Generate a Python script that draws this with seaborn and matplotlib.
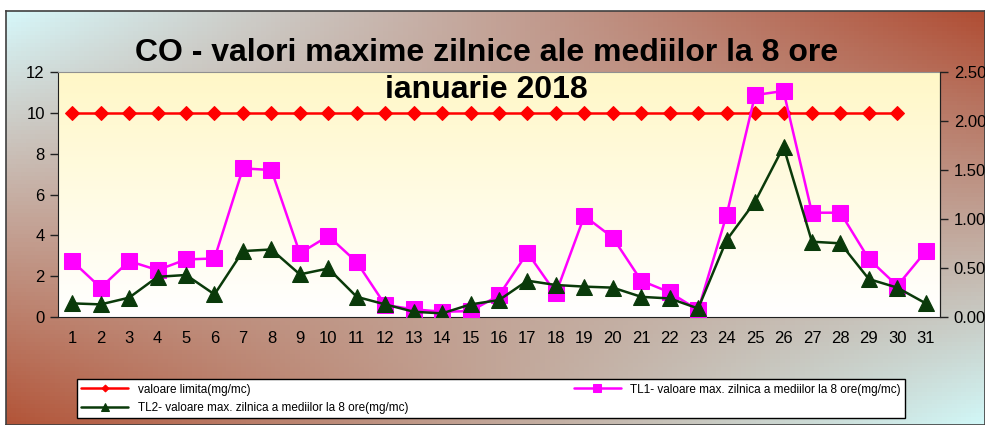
import numpy as np
import pandas as pd
import matplotlib
matplotlib.use("Agg")
from matplotlib import pyplot as plt
import seaborn as sns

days = list(range(1, 32))
limita = [10] * 30 + [np.nan]
tl1 = [2.74, 1.44, 2.74, 2.30, 2.82, 2.87, 7.28, 7.20, 3.12, 3.97,
       2.69, 0.59, 0.38, 0.26, 0.29, 1.06, 3.15, 1.16, 4.95, 3.89,
       1.78, 1.21, 0.34, 5.00, 10.87, 11.07, 5.11, 5.11, 2.84, 1.53, 3.22]
tl2 = [0.67, 0.62, 0.95, 1.97, 2.06, 1.11, 3.23, 3.31, 2.09, 2.38,
       0.99, 0.62, 0.26, 0.18, 0.62, 0.83, 1.78, 1.57, 1.49, 1.44,
       0.99, 0.91, 0.42, 3.77, 5.65, 8.34, 3.69, 3.61, 1.86, 1.44, 0.67]
left_ticks = [0, 2, 4, 6, 8, 10, 12]
right_ticks = [0, 0.5, 1.0, 1.5, 2.0, 2.5]

df = pd.DataFrame({"zi": days, "limita": limita, "tl1": tl1, "tl2": tl2})

sns.set_style("white")
plt.rcParams['font.family'] = ['Liberation Sans', 'DejaVu Sans']
plt.rcParams['text.color'] = 'black'
plt.rcParams['xtick.color'] = 'black'
plt.rcParams['ytick.color'] = 'black'

fig = plt.figure(figsize=(9.85, 4.25), dpi=100)
fig.patch.set_facecolor("white")

# frame background gradient
bg = fig.add_axes([0.006, 0.0, 0.994, 0.975], zorder=-10)
tl = np.array([0.84, 0.97, 0.98])
tr = np.array([0.69, 0.30, 0.20])
bl = np.array([0.70, 0.33, 0.22])
br = np.array([0.82, 0.97, 0.97])
u = np.linspace(0, 1, 200)[None, :, None]
v = np.linspace(0, 1, 100)[:, None, None]
img = (1 - v) * ((1 - u) * tl + u * tr) + v * ((1 - u) * bl + u * br)
bg.imshow(img, aspect="auto", extent=[0, 1, 0, 1], origin="upper")
bg.set_xticks([])
bg.set_yticks([])
for s in bg.spines.values():
    s.set_color("#404040")
    s.set_linewidth(1.2)

ax = fig.add_axes([0.0589, 0.254, 0.8954, 0.5766])
# plot area: pale yellow to white
grad = np.linspace(0, 1, 100)[:, None, None]
area = (1 - grad) * np.array([1.0, 0.97, 0.78]) + grad * np.array([1.0, 1.0, 1.0])
ax.imshow(area, aspect="auto", extent=[0.5, 31.5, 0, 12], origin="upper", zorder=0)

sns.lineplot(data=df, x="zi", y="limita", ax=ax, color="#ff0000", marker="D",
             markersize=7, linewidth=1.8, markeredgecolor="#ff0000",
             label="valoare limita(mg/mc)", zorder=3)
sns.lineplot(data=df, x="zi", y="tl1", ax=ax, color="#ff00ff", marker="s",
             markersize=11, linewidth=1.8, markeredgecolor="#ff00ff",
             label="TL1- valoare max. zilnica a mediilor la 8 ore(mg/mc)", zorder=4)
sns.lineplot(data=df, x="zi", y="tl2", ax=ax, color="#0a3a0a", marker="^",
             markersize=11, linewidth=1.8, markeredgecolor="#0a3a0a",
             label="TL2- valoare max. zilnica a mediilor la 8 ore(mg/mc)", zorder=5)

ax.set_xlim(0.5, 31.5)
ax.set_ylim(0, 12)
ax.set_yticks(left_ticks)
ax.set_yticklabels([str(t) for t in left_ticks], fontsize=12)
ax.set_xticks(np.arange(0.5, 32, 1))
ax.set_xticklabels([])
ax.set_xticks(days, minor=True)
ax.set_xticklabels([str(d) for d in days], minor=True, fontsize=12)
ax.tick_params(axis="x", which="major", direction="out", length=6, color="#202020", width=1)
ax.tick_params(axis="x", which="minor", length=0, pad=10)
ax.tick_params(axis="y", direction="out", length=6, color="#202020", width=1)
ax.set_xlabel("")
ax.set_ylabel("")
ax.spines["top"].set_color("#909090")
ax.spines["left"].set_color("#202020")
ax.spines["bottom"].set_color("#202020")
ax.spines["right"].set_color("#202020")

ax2 = ax.twinx()
ax2.set_ylim(0, 2.5)
ax2.set_yticks(right_ticks)
ax2.set_yticklabels(["%.2f" % t for t in right_ticks], fontsize=12)
ax2.tick_params(axis="y", direction="out", length=6, color="#202020", width=1, pad=4)
for s in ax2.spines.values():
    s.set_visible(False)
ax2.spines["right"].set_visible(True)
ax2.spines["right"].set_color("#202020")

handles, labels = ax.get_legend_handles_labels()
ax.get_legend().remove()
order = [0, 2, 1]
leg = fig.legend([handles[i] for i in order], [labels[i] for i in order],
                 loc="lower left", bbox_to_anchor=(0.078, 0.016, 0.841, 0.094),
                 mode="expand", ncol=2, fontsize=8.5, frameon=True, fancybox=False,
                 edgecolor="black", borderpad=0.35, handlelength=4, markerscale=0.5,
                 labelspacing=0.55, borderaxespad=0)
leg.get_frame().set_linewidth(1)
leg.get_frame().set_facecolor("white")
leg.get_frame().set_alpha(1)

fig.text(0.494, 0.876, "CO - valori maxime zilnice ale mediilor la 8 ore",
         ha="center", va="center", fontsize=23, fontweight="bold", color="black")
fig.text(0.494, 0.788, "ianuarie 2018", ha="center", va="center",
         fontsize=23, fontweight="bold", color="black")

fig.savefig("out.png", dpi=100)
